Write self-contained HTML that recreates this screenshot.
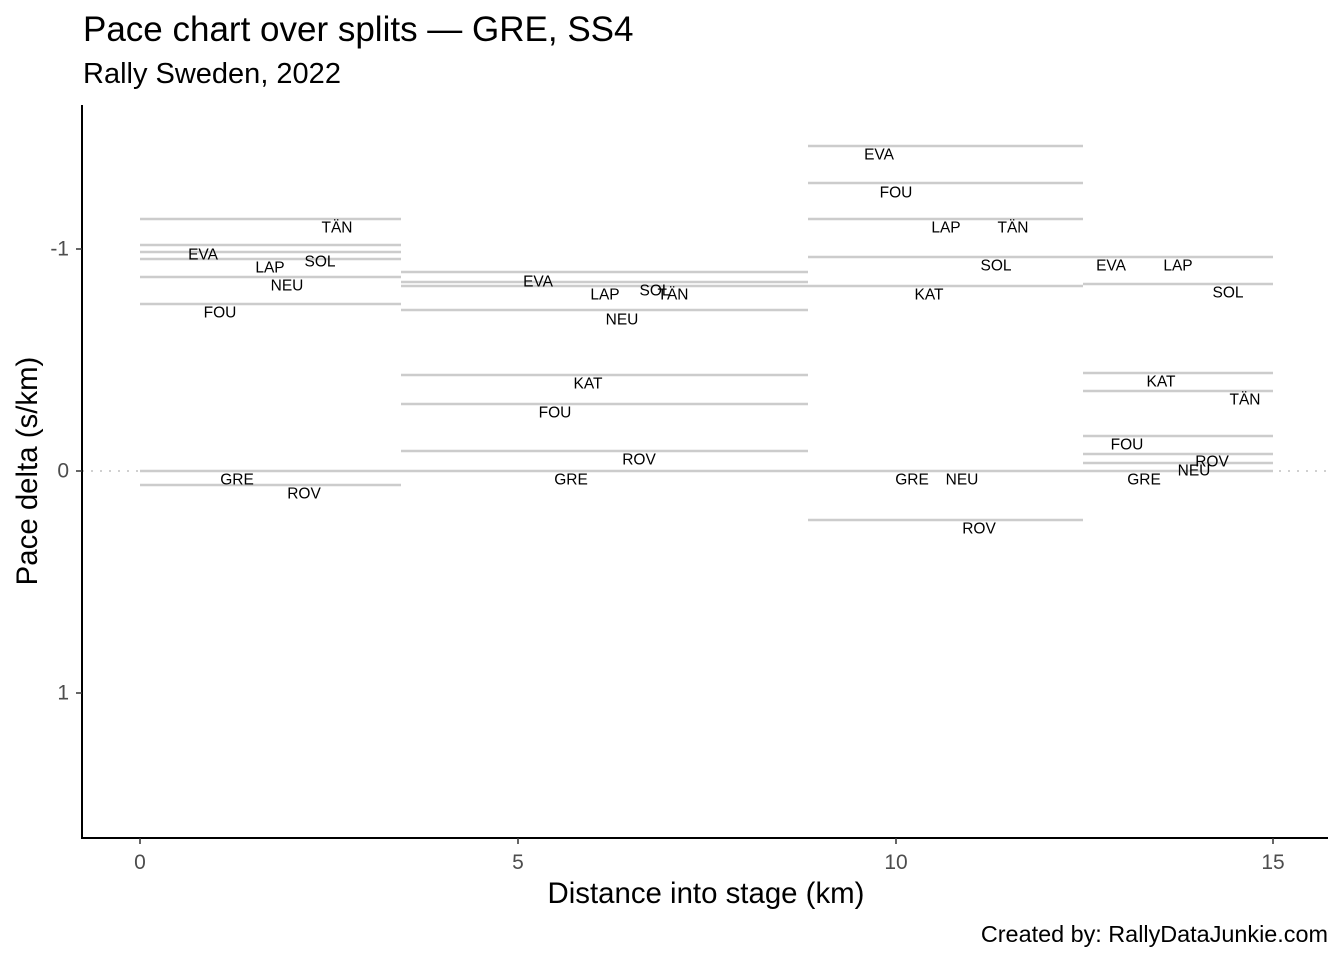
<!DOCTYPE html>
<html><head><meta charset="utf-8"><style>body{margin:0;background:#fff}svg{display:block}</style></head><body>
<svg width="1344" height="960" xmlns="http://www.w3.org/2000/svg" font-family="Liberation Sans, Arial, sans-serif">
<rect width="1344" height="960" fill="#fff"/>
<text x="83" y="41" font-size="35" fill="#000">Pace chart over splits — GRE, SS4</text>
<text x="83" y="83" font-size="29" fill="#000">Rally Sweden, 2022</text>
<line x1="82" y1="471" x2="1328" y2="471" stroke="#d0d0d0" stroke-width="2" stroke-dasharray="2,7"/>
<g stroke="#cccccc" stroke-width="2.5">
<line x1="140" x2="401" y1="219" y2="219"/><line x1="140" x2="401" y1="245" y2="245"/><line x1="140" x2="401" y1="252" y2="252"/><line x1="140" x2="401" y1="259" y2="259"/><line x1="140" x2="401" y1="277" y2="277"/><line x1="140" x2="401" y1="304" y2="304"/><line x1="140" x2="401" y1="471" y2="471"/><line x1="140" x2="401" y1="485" y2="485"/>
<line x1="401" x2="808" y1="272" y2="272"/><line x1="401" x2="808" y1="282" y2="282"/><line x1="401" x2="808" y1="286" y2="286"/><line x1="401" x2="808" y1="310" y2="310"/><line x1="401" x2="808" y1="375" y2="375"/><line x1="401" x2="808" y1="404" y2="404"/><line x1="401" x2="808" y1="451" y2="451"/><line x1="401" x2="808" y1="471" y2="471"/>
<line x1="808" x2="1083" y1="146" y2="146"/><line x1="808" x2="1083" y1="183" y2="183"/><line x1="808" x2="1083" y1="219" y2="219"/><line x1="808" x2="1083" y1="257" y2="257"/><line x1="808" x2="1083" y1="286" y2="286"/><line x1="808" x2="1083" y1="471" y2="471"/><line x1="808" x2="1083" y1="520" y2="520"/>
<line x1="1083" x2="1273" y1="257" y2="257"/><line x1="1083" x2="1273" y1="284" y2="284"/><line x1="1083" x2="1273" y1="373" y2="373"/><line x1="1083" x2="1273" y1="391" y2="391"/><line x1="1083" x2="1273" y1="436" y2="436"/><line x1="1083" x2="1273" y1="454" y2="454"/><line x1="1083" x2="1273" y1="463" y2="463"/><line x1="1083" x2="1273" y1="471" y2="471"/>
</g>
<g font-size="15.5" fill="#000" text-anchor="middle" dominant-baseline="central" transform="translate(0,1)">
<text x="337" y="227">TÄN</text><text x="203" y="254">EVA</text><text x="270" y="267">LAP</text><text x="320" y="261">SOL</text><text x="287" y="285">NEU</text><text x="220" y="312">FOU</text><text x="237" y="479">GRE</text><text x="304" y="493">ROV</text>
<text x="538" y="281">EVA</text><text x="605" y="294">LAP</text><text x="655" y="290">SOL</text><text x="673" y="294">TÄN</text><text x="622" y="319">NEU</text><text x="588" y="383">KAT</text><text x="555" y="412">FOU</text><text x="639" y="459">ROV</text><text x="571" y="479">GRE</text>
<text x="879" y="154">EVA</text><text x="896" y="192">FOU</text><text x="946" y="227">LAP</text><text x="1013" y="227">TÄN</text><text x="996" y="265">SOL</text><text x="929" y="294">KAT</text><text x="912" y="479">GRE</text><text x="962" y="479">NEU</text><text x="979" y="528">ROV</text>
<text x="1111" y="265">EVA</text><text x="1178" y="265">LAP</text><text x="1228" y="292">SOL</text><text x="1161" y="381">KAT</text><text x="1245" y="399">TÄN</text><text x="1127" y="444">FOU</text><text x="1212" y="461">ROV</text><text x="1194" y="470">NEU</text><text x="1144" y="479">GRE</text>
</g>
<line x1="82" y1="105" x2="82" y2="839" stroke="#000" stroke-width="2"/>
<line x1="81" y1="838" x2="1328" y2="838" stroke="#000" stroke-width="2"/>
<g stroke="#333" stroke-width="1.5">
<line x1="76" x2="82" y1="249" y2="249"/><line x1="76" x2="82" y1="471" y2="471"/><line x1="76" x2="82" y1="693" y2="693"/>
<line x1="140" x2="140" y1="838" y2="844"/><line x1="518" x2="518" y1="838" y2="844"/><line x1="896" x2="896" y1="838" y2="844"/><line x1="1273" x2="1273" y1="838" y2="844"/>
</g>
<g font-size="21" fill="#4d4d4d">
<g text-anchor="end" dominant-baseline="central"><text x="69" y="249">-1</text><text x="69" y="471">0</text><text x="69" y="693">1</text></g>
<g text-anchor="middle"><text x="140" y="869">0</text><text x="518" y="869">5</text><text x="896" y="869">10</text><text x="1273" y="869">15</text></g>
</g>
<text x="706" y="903" font-size="29.4" text-anchor="middle">Distance into stage (km)</text>
<text transform="translate(37,471) rotate(-90)" font-size="29.4" text-anchor="middle">Pace delta (s/km)</text>
<text x="1328" y="942" font-size="23.4" text-anchor="end">Created by: RallyDataJunkie.com</text>
</svg>
</body></html>
